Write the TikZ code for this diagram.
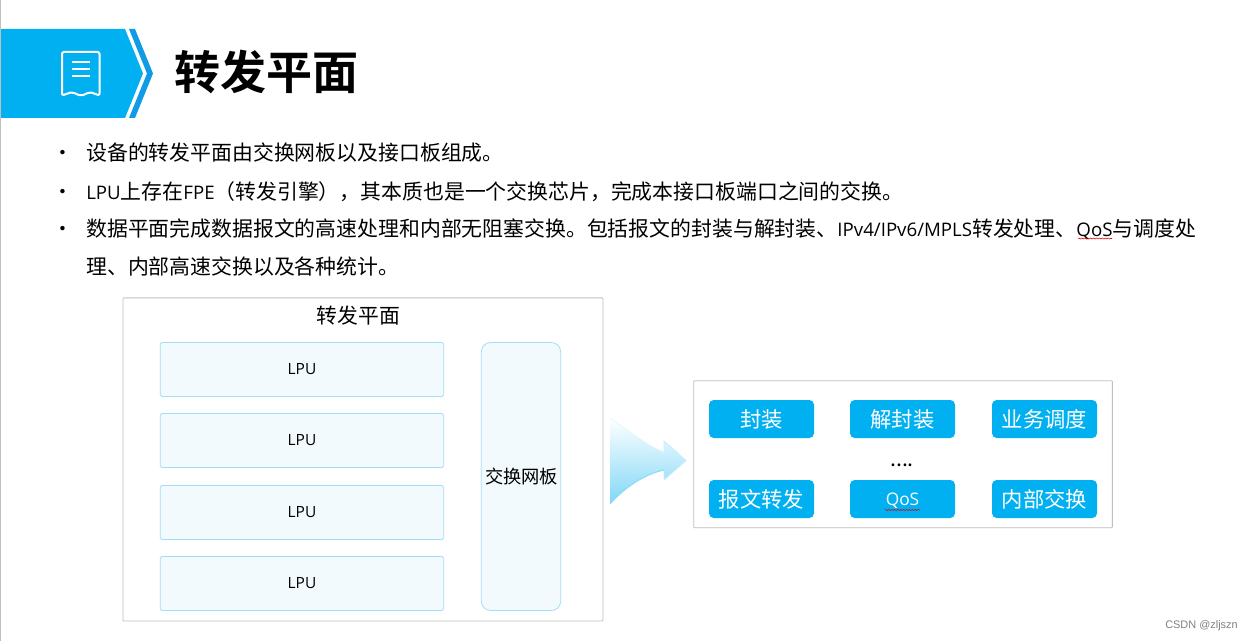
\documentclass[tikz,border=0pt]{standalone}
\usepackage{fontspec}
\setmainfont{Noto Sans CJK SC}
\newfontfamily\boldcjk{Noto Sans CJK SC Bold}
\newfontfamily\wm{Liberation Sans}
\newfontfamily\latf{Open Sans}
\newcommand{\lat}[1]{{\fontsize{14pt}{18pt}\selectfont\latf #1}}
\usetikzlibrary{decorations.pathmorphing,shadings}
\definecolor{cyanb}{HTML}{00B0F0}
\definecolor{blueb}{HTML}{0F9BE6}
\definecolor{frameg}{HTML}{BFBFBF}
\definecolor{paleb}{HTML}{F3FAFD}
\definecolor{lineb}{HTML}{A0DFF5}
\tikzset{
 x=0.75pt,y=-0.75pt,
 bodytext/.style={anchor=base west,inner sep=0pt,font=\fontsize{15.65pt}{18pt}\selectfont,text=black},
 framebox/.style={draw=frameg,line width=0.6pt,fill=white,rounded corners=0.6pt,anchor=north west,inner sep=0pt},
 lpubox/.style={draw=lineb,line width=0.6pt,fill=paleb,rounded corners=1.2pt,minimum width=212.5pt,minimum height=40.5pt,inner sep=0pt,font=\fontsize{11.6pt}{14pt}\selectfont\latf},
 fabbox/.style={draw=lineb,line width=0.6pt,fill=paleb,rounded corners=7pt,minimum width=59.5pt,minimum height=201pt,inner sep=0pt,font=\fontsize{13.7pt}{16pt}\selectfont},
 tagbox/.style={fill=cyanb,rounded corners=3.5pt,minimum width=78.75pt,minimum height=28.5pt,inner sep=0pt,text=white,font=\fontsize{16pt}{18pt}\selectfont},
 squiggle/.style={draw=red!85!black,line width=0.4pt,decorate,decoration={snake,amplitude=0.4pt,segment length=2.2pt}},
}
\begin{document}
\begin{tikzpicture}
\useasboundingbox (0,0) rectangle (1252,641);
\fill[white] (0,0) rectangle (1252,641);
\draw[frameg,line width=0.75pt] (0.5,0)--(0.5,641);
% header
\fill[cyanb] (1,29)--(125,29)--(143,73.5)--(125,118)--(1,118)--cycle;
\fill[blueb] (129,29)--(135,29)--(153,73.5)--(135,118)--(129,118)--(147,73.5)--cycle;
\draw[white,line width=1.5pt,line join=round,rounded corners=1.5pt] (62,52)--(99.5,52)--(99.5,95.5)--(90,92)--(81,96)--(72,92)--(62,95.5)--cycle;
\draw[white,line width=1.5pt] (72,62)--(90,62) (72,69)--(90,69) (72,76.5)--(90,76.5);
\node[anchor=base west,inner sep=0pt,font=\fontsize{34.5pt}{40pt}\selectfont\boldcjk] (title) at (174.5,90) {转发平面};
% bullets
\node[bodytext] (b1) at (52,161) {•};
\node[bodytext] (t1) at (86,161) {设备的转发平面由交换网板以及接口板组成。};
\node[bodytext] (b2) at (52,200) {•};
\node[bodytext] (t2) at (86,200) {\lat{LPU}上存在\lat{FPE}（转发引擎），其本质也是一个交换芯片，完成本接口板端口之间的交换。};
\node[bodytext] (b3) at (52,237) {•};
\node[bodytext] (t3) at (86,237) {数据平面完成数据报文的高速处理和内部无阻塞交换。包括报文的封装与解封装、\lat{IPv4/IPv6/MPLS}转发处理、\lat{QoS}与调度处};
\node[bodytext] (t4) at (86,275) {理、内部高速交换以及各种统计。};
\draw[squiggle] (1078,238.5)--(1112,238.5);
% left panel
\node[framebox,minimum width=360pt,minimum height=242.25pt] (plane) at (122.5,297.5) {};
\node[inner sep=0pt,font=\fontsize{15.6pt}{18pt}\selectfont] (planet) at (358.5,316) {转发平面};
\node[lpubox] (l1) at (302,369.5) {LPU};
\node[lpubox] (l2) at (302,440.5) {LPU};
\node[lpubox] (l3) at (302,512.5) {LPU};
\node[lpubox] (l4) at (302,583.5) {LPU};
\node[fabbox] (fab) at (521,476.5) {\hspace{1pt}交换网板};
% arrow
\path[top color=white,middle color=cyanb!6,bottom color=cyanb!50,draw=none]
 (610,418) .. controls (630,432) and (650,447) .. (664,452) -- (664,441) -- (686,460.5) -- (664,480) -- (664,470) .. controls (645,474) and (625,487) .. (610,504) -- cycle;
\draw[cyanb!22,line width=0.7pt] (664,452)--(664,441)--(686,460.5)--(664,480)--(664,470);
\draw[cyanb!10,line width=0.6pt] (610,418) .. controls (630,432) and (650,447) .. (664,452);
\draw[cyanb!45,line width=0.8pt] (664,470) .. controls (645,474) and (625,487) .. (610,504);
% right panel
\node[framebox,minimum width=314pt,minimum height=110.25pt] (ops) at (693.3,380.3) {};
\node[tagbox] (a1) at (761.5,419) {封装};
\node[tagbox] (a2) at (902.5,419) {解封装};
\node[tagbox] (a3) at (1044.5,419) {业务调度};
\node[tagbox] (c1) at (761.5,499) {报文转发};
\node[tagbox] (c2) at (902.5,499) {};
\node[anchor=center,inner sep=0pt,text=white,font=\fontsize{13pt}{18pt}\selectfont\latf] (c2t) at (902.5,500.5) {QoS};
\node[tagbox] (c3) at (1044.5,499) {内部交换};
\draw[squiggle] (885,510)--(920,510);
\node[inner sep=0pt,font=\fontsize{16pt}{18pt}\selectfont] (dots) at (902,465) {....};
\node[anchor=base east,inner sep=0pt,text=black!50,font=\fontsize{8.2pt}{10pt}\selectfont\wm] (wm) at (1238,628) {CSDN @zljszn};
\end{tikzpicture}
\end{document}
